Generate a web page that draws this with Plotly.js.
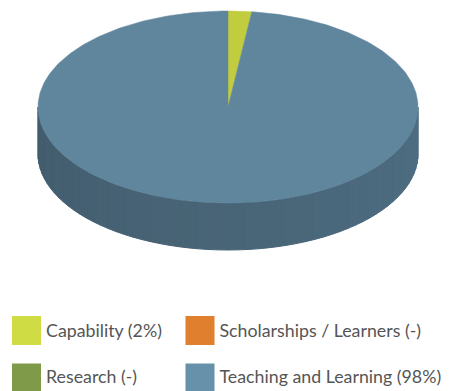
<!DOCTYPE html>
<html><head><meta charset="utf-8">
<script src="https://cdn.plot.ly/plotly-3.0.1.min.js"></script>
<style>html,body{margin:0;padding:0;background:#fff}#c{width:449px;height:391px}</style>
</head><body><div id="c"></div>
<script>
const categories = ["Capability", "Scholarships / Learners", "Research", "Teaching and Learning"];
const values = [2, 0, 0, 98];
const labels = ["Capability (2%)", "Scholarships / Learners (-)", "Research (-)", "Teaching and Learning (98%)"];
const colors = ["#d0dc43", "#e07f2e", "#7f9b4a", "#6790aa"];

// geometry (pixel space)
const G = {cx: 228, cy: 107, rx: 190, ry: 96, depth: 47};

function hex2rgb(h){return [1,3,5].map(i=>parseInt(h.substr(i,2),16));}
function shade(h,f){const c=hex2rgb(h).map(v=>Math.max(0,Math.min(255,Math.round(v*f))));return `rgb(${c[0]},${c[1]},${c[2]})`;}
function pt(th,dy){const r=th*Math.PI/180;return [G.cx+G.rx*Math.sin(r), G.cy-G.ry*Math.cos(r)+(dy||0)];}

const total = values.reduce((a,b)=>a+b,0);
const traces = [];
let start = 0;
const slices = values.map((v,i)=>{const s=start, e=start+v/total*360; start=e; return {i,s,e};});

// side walls (front half: 90..270 deg), gradient strips
slices.forEach(sl=>{
  if (sl.e - sl.s <= 0) return;
  const a = Math.max(sl.s, 90), b = Math.min(sl.e, 270);
  if (b <= a) return;
  const n = Math.max(1, Math.ceil((b-a)/3));
  for (let k=0;k<n;k++){
    const t0 = a+(b-a)*k/n, t1 = a+(b-a)*(k+1)/n;
    const xs=[], ys=[];
    for (let j=0;j<=4;j++){const p=pt(t0+(t1-t0)*j/4);xs.push(p[0]);ys.push(p[1]);}
    for (let j=4;j>=0;j--){const p=pt(t0+(t1-t0)*j/4,G.depth);xs.push(p[0]);ys.push(p[1]);}
    xs.push(xs[0]); ys.push(ys[0]);
    const tm = (t0+t1)/2;
    const f = 0.76 - 0.12*(tm-90)/180;
    const col = shade(colors[sl.i], f);
    traces.push({type:'scatter',mode:'lines',x:xs,y:ys,fill:'toself',fillcolor:col,
      line:{color:col,width:1},hoverinfo:'skip',showlegend:false});
  }
});

// top slices
slices.forEach(sl=>{
  if (sl.e - sl.s <= 0) return;
  const xs=[G.cx], ys=[G.cy];
  const n = Math.max(2, Math.ceil((sl.e-sl.s)/1));
  for (let j=0;j<=n;j++){const p=pt(sl.s+(sl.e-sl.s)*j/n);xs.push(p[0]);ys.push(p[1]);}
  xs.push(G.cx); ys.push(G.cy);
  const col = shade(colors[sl.i], 0.93);
  traces.push({type:'scatter',mode:'lines',x:xs,y:ys,fill:'toself',fillcolor:col,
    line:{color:col,width:0.5},name:categories[sl.i],hoverinfo:'name',showlegend:false});
});

// legend: squares + labels
const legX = [26.5, 200], legY = [330.5, 378], textDX = 19.5, textDY = [2.5, 0.5];
labels.forEach((lab,i)=>{
  const c = i%2, r = Math.floor(i/2);
  traces.push({type:'scatter',mode:'markers',x:[legX[c]],y:[legY[r]],
    marker:{symbol:'square',size:29,color:colors[i],line:{width:0}},
    hoverinfo:'skip',showlegend:false,cliponaxis:false});
  traces.push({type:'scatter',mode:'text',x:[legX[c]+textDX],y:[legY[r]+textDY[r]],
    text:[lab],textposition:'middle right',
    textfont:{family:'Lato, "Open Sans", sans-serif',size:17.8,color:'#555555'},
    hoverinfo:'skip',showlegend:false,cliponaxis:false});
});

const layout = {
  width:449,height:391,margin:{l:0,r:0,t:0,b:0},
  paper_bgcolor:'#ffffff',plot_bgcolor:'#ffffff',showlegend:false,
  xaxis:{range:[0,449],visible:false,fixedrange:true},
  yaxis:{range:[391,0],visible:false,fixedrange:true}
};
Plotly.newPlot('c',traces,layout,{staticPlot:true,displayModeBar:false});
</script></body></html>
